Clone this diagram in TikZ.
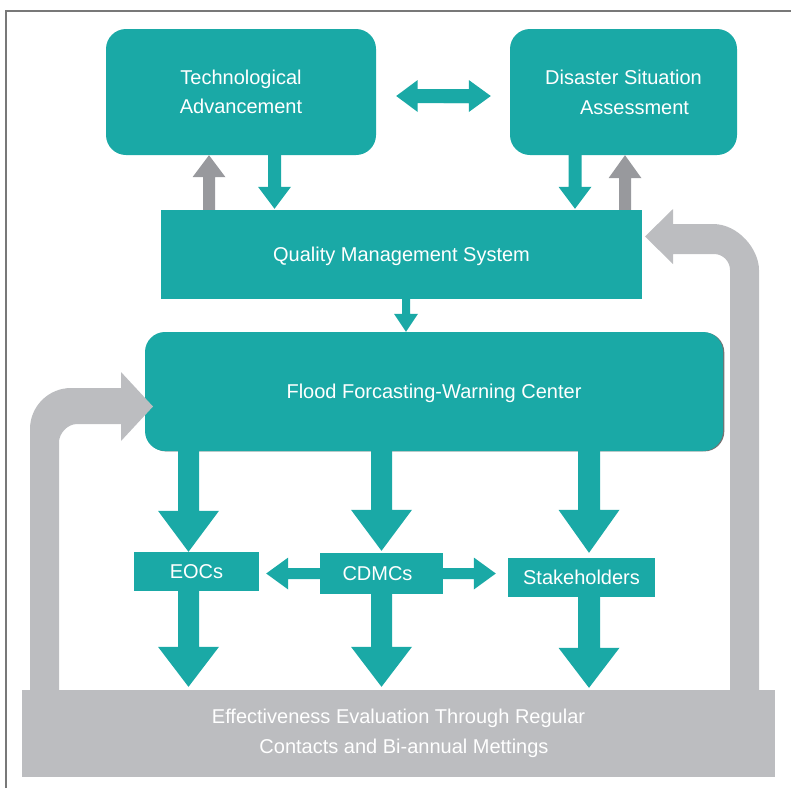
\documentclass[tikz,border=0pt]{standalone}
\usepackage{fontspec}
\setmainfont{Liberation Sans}
\usetikzlibrary{calc}
\definecolor{tealc}{RGB}{26,169,166}
\definecolor{gdark}{RGB}{152,153,157}
\definecolor{glight}{RGB}{188,189,192}
\definecolor{framec}{RGB}{120,120,120}
% block arrow: #1 colour, #2 start, #3 tip, #4 shaft half width, #5 head half width, #6 head length
\newcommand\blockarr[6]{%
  \coordinate (bah) at ($(#3)!#6!(#2)$);
  \fill[#1] ($(#2)!#4!90:(#3)$) -- ($(bah)!#4!90:(#3)$) -- ($(bah)!#5!90:(#3)$) -- (#3)
    -- ($(bah)!#5!-90:(#3)$) -- ($(bah)!#4!-90:(#3)$) -- ($(#2)!#4!-90:(#3)$) -- cycle;}
\tikzset{
  basebox/.style={fill=tealc, text=white, inner sep=0pt, font=\fontsize{20}{30}\selectfont},
  rbox/.style={basebox, rounded corners=20pt, align=center},
  sbox/.style={basebox, text height=14.3pt, text depth=0pt},
  graybox/.style={fill=glight, text=white, inner sep=0pt, align=center, font=\fontsize{20}{30}\selectfont},
  bentarrow/.style={fill=glight},
}
\begin{document}
\begin{tikzpicture}[x=1pt,y=-1pt]
\useasboundingbox (0,0) rectangle (791,788);
\draw[framec, line width=1.2pt] (6,788) -- (6,11) -- (791,11);

% boxes
\node[rbox, minimum width=270pt, minimum height=126pt] (tech) at (241,92) {Technological\\[-1pt]Advancement};
\node[rbox, minimum width=227pt, minimum height=126pt] (dsa) at (623.5,92) {Disaster Situation\\\hspace*{22pt}Assessment};
\node[sbox, minimum width=481pt, minimum height=89pt] (qms) at (401.5,254.5) {Quality Management System};
\fill[black!55, rounded corners=20pt] (146.3,332.4) rectangle (724.3,451.4);
\node[sbox, rounded corners=20pt, minimum width=578pt, minimum height=119pt] (ffwc) at (434,391.5) {Flood Forcasting-Warning Center};
\node[sbox, minimum width=125pt, minimum height=39pt] (eoc) at (196.5,571.5) {EOCs};
\node[sbox, minimum width=123pt, minimum height=41pt, text width=123pt, align=center] (cdmc) at (381.5,573.5) {\hspace*{-8pt}CDMCs};
\node[sbox, minimum width=147pt, minimum height=39pt] (stake) at (581.5,577.5) {Stakeholders};
\node[graybox, minimum width=753pt, minimum height=87pt] (eval) at (398.5,733.5) {Effectiveness Evaluation Through Regular\\\hspace*{11pt}Contacts and Bi-annual Mettings};

% top double arrow
\coordinate (tl) at ([xshift=20pt,yshift=-4pt]tech.east);
\coordinate (tr) at ([xshift=-19pt,yshift=-4pt]dsa.west);
\coordinate (trb) at ($(tr)!22pt!(tl)$);
\coordinate (tm) at ($(tl)!0.5!(tr)$);
\blockarr{tealc}{trb}{tl}{7pt}{16pt}{21.5pt}
\blockarr{tealc}{tm}{tr}{7pt}{16pt}{22pt}

% Technological <-> QMS
\coordinate (tgu) at ([xshift=-32pt]tech.south);
\coordinate (qgu) at (tgu |- qms.north);
\blockarr{gdark}{qgu}{tgu}{6pt}{16.5pt}{22pt}
\coordinate (ttd) at ([xshift=33.5pt]tech.south);
\coordinate (qtd0) at (ttd |- qms.north);
\coordinate (qtd) at ([yshift=1pt]qtd0);
\blockarr{tealc}{ttd}{qtd}{6.5pt}{16.5pt}{22pt}

% DSA <-> QMS
\coordinate (dtd) at ([xshift=-48.5pt]dsa.south);
\coordinate (qdd0) at (dtd |- qms.north);
\coordinate (qdd) at ([yshift=1pt]qdd0);
\blockarr{tealc}{dtd}{qdd}{6.5pt}{16.5pt}{22pt}
\coordinate (dgu) at ([xshift=1.5pt]dsa.south);
\coordinate (qgd) at (dgu |- qms.north);
\blockarr{gdark}{qgd}{dgu}{6pt}{16.5pt}{23pt}

% QMS -> FFWC
\coordinate (qf) at ([xshift=4.5pt]qms.south);
\coordinate (fq) at (qf |- ffwc.north);
\blockarr{tealc}{qf}{fq}{4pt}{12pt}{18pt}

% FFWC -> EOCs / CDMCs / Stakeholders
\coordinate (e1) at ([xshift=-8pt]eoc.north);
\coordinate (f1) at (e1 |- ffwc.south);
\blockarr{tealc}{f1}{e1}{10.5pt}{30.5pt}{41pt}
\coordinate (c1) at (cdmc.north);
\coordinate (f2) at (c1 |- ffwc.south);
\coordinate (c1t) at ([yshift=2pt]c1);
\blockarr{tealc}{f2}{c1t}{10.5pt}{30.5pt}{41pt}
\coordinate (s1) at ([xshift=7.5pt]stake.north);
\coordinate (f3) at (s1 |- ffwc.south);
\coordinate (s1t) at ([yshift=5pt]s1);
\blockarr{tealc}{f3}{s1t}{11pt}{30.5pt}{43pt}

% EOCs / CDMCs / Stakeholders -> Evaluation
\coordinate (e2) at ([xshift=-8pt]eoc.south);
\coordinate (v1) at (e2 |- eval.north);
\coordinate (v1t) at ([yshift=3pt]v1);
\blockarr{tealc}{e2}{v1t}{10.5pt}{30.5pt}{40pt}
\coordinate (c2) at (cdmc.south);
\coordinate (v2) at (c2 |- eval.north);
\coordinate (v2t) at ([yshift=3pt]v2);
\blockarr{tealc}{c2}{v2t}{10.5pt}{30.5pt}{40pt}
\coordinate (s2) at ([xshift=7.5pt]stake.south);
\coordinate (v3) at (s2 |- eval.north);
\coordinate (v3t) at ([yshift=2pt]v3);
\blockarr{tealc}{s2}{v3t}{11pt}{30.5pt}{40pt}

% CDMCs <-> EOCs, CDMCs <-> Stakeholders
\coordinate (cl0) at (eoc.east |- cdmc.west);
\coordinate (cl) at ([xshift=7pt]cl0);
\blockarr{tealc}{cdmc.west}{cl}{5.5pt}{16pt}{22pt}
\coordinate (cr0) at (stake.west |- cdmc.east);
\coordinate (cr) at ([xshift=-12pt]cr0);
\blockarr{tealc}{cdmc.east}{cr}{5.5pt}{16pt}{22pt}

% feedback arrows (grey, bent)
\fill[bentarrow] (30,690) -- (30,429) .. controls (30,406.4) and (48.4,388) .. (71,388)
  -- (121,388) -- (121,372) -- (153,406.5) -- (121,441) -- (121,424) -- (77,424)
  .. controls (67.1,424) and (59,433.9) .. (59,442) -- (59,690) -- cycle;
\fill[bentarrow] (759,690) -- (759,270) .. controls (759,249.4) and (738.4,224) .. (713,224)
  -- (673,224) -- (673,209) -- (645,236.5) -- (673,264) -- (673,254) -- (714,254)
  .. controls (722.8,254) and (730,261.2) .. (730,270) -- (730,690) -- cycle;
\end{tikzpicture}
\end{document}
